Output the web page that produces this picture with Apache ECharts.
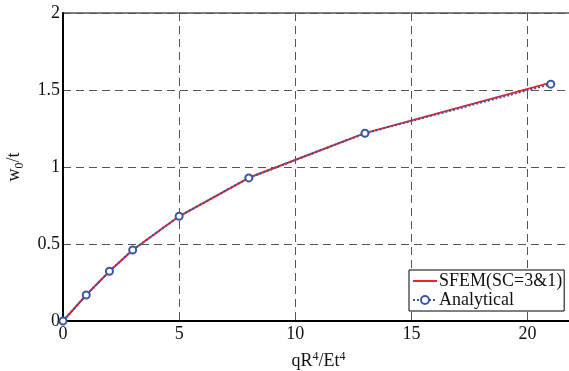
<!DOCTYPE html>
<html><head><meta charset="utf-8">
<script src="https://cdn.jsdelivr.net/npm/echarts@6/dist/echarts.min.js"></script>
<style>html,body{margin:0;padding:0;background:#fff}#c{width:569px;height:371px}</style>
</head><body><div id="c"></div>
<script>
const xLoad = [0, 1, 2, 3, 5, 8, 13, 21];
const sfem = [0, 0.169, 0.323, 0.461, 0.680, 0.930, 1.220, 1.548];
const analytical = [0, 0.169, 0.323, 0.461, 0.680, 0.929, 1.219, 1.538];
const seriesNames = ['SFEM(SC=3&1)', 'Analytical'];
const font = 'Liberation Serif';
const chart = echarts.init(document.getElementById('c'));
const gridLine = {show: true, lineStyle: {color: '#555', type: [8, 5], width: 1}};
chart.setOption({
  animation: false,
  grid: {left: 63, top: 13, right: -5, bottom: 50, show: true, borderColor: '#000', borderWidth: 1, outerBoundsMode: 'none', containLabel: false},
  xAxis: {
    type: 'value', min: 0, max: 22, interval: 5,
    name: '{n|qR}{sup|4}{n|/Et}{sup|4}', nameLocation: 'middle', nameGap: 30,
    nameTextStyle: {rich: {n: {fontFamily: font, fontSize: 18, color: '#111', verticalAlign: 'bottom'}, sup: {fontFamily: font, fontSize: 12, color: '#111', verticalAlign: 'top', padding: [0,0,7,0]}}},
    axisLine: {onZero: false, lineStyle: {color: '#000', width: 2}},
    axisTick: {show: false},
    axisLabel: {fontFamily: font, fontSize: 18, color: '#111', margin: 4, showMaxLabel: false},
    splitLine: gridLine
  },
  yAxis: {
    type: 'value', min: 0, max: 2, interval: 0.5,
    name: '{n|w}{sub|0}{n|/t}', nameLocation: 'middle', nameGap: 37, nameRotate: 90,
    nameTextStyle: {rich: {n: {fontFamily: font, fontSize: 18, color: '#111'}, sub: {fontFamily: font, fontSize: 12, color: '#111', padding: [12,0,0,0]}}},
    axisLine: {lineStyle: {color: '#000', width: 2}},
    axisTick: {show: false},
    axisLabel: {fontFamily: font, fontSize: 18, color: '#111', margin: 3},
    splitLine: gridLine
  },
  legend: {
    left: 409, top: 270, orient: 'vertical', itemGap: 1, itemWidth: 24, itemHeight: 10,
    backgroundColor: '#fff', borderColor: '#000', borderWidth: 1, borderRadius: 0,
    padding: [2, 2, 2, 3],
    textStyle: {fontFamily: font, fontSize: 18, color: '#111', padding: [0,0,0,-3]},
    data: [{name: seriesNames[0], icon: 'path://M0,0L24,0L24,2L0,2Z'}, {name: seriesNames[1]}]
  },
  series: [
    {name: seriesNames[0], type: 'line', data: xLoad.map((x, i) => [x, sfem[i]]),
     showSymbol: false, symbol: 'none', lineStyle: {color: '#E8232B', width: 2}, itemStyle: {color: '#E8232B'}, z: 3},
    {name: seriesNames[1], type: 'line', data: xLoad.map((x, i) => [x, analytical[i]]),
     symbol: 'circle', symbolSize: 7, lineStyle: {color: '#3A56A5', width: 2, type: [2, 2]},
     itemStyle: {color: '#fff', borderColor: '#3A56A5', borderWidth: 2}, z: 4}
  ]
});
</script></body></html>
